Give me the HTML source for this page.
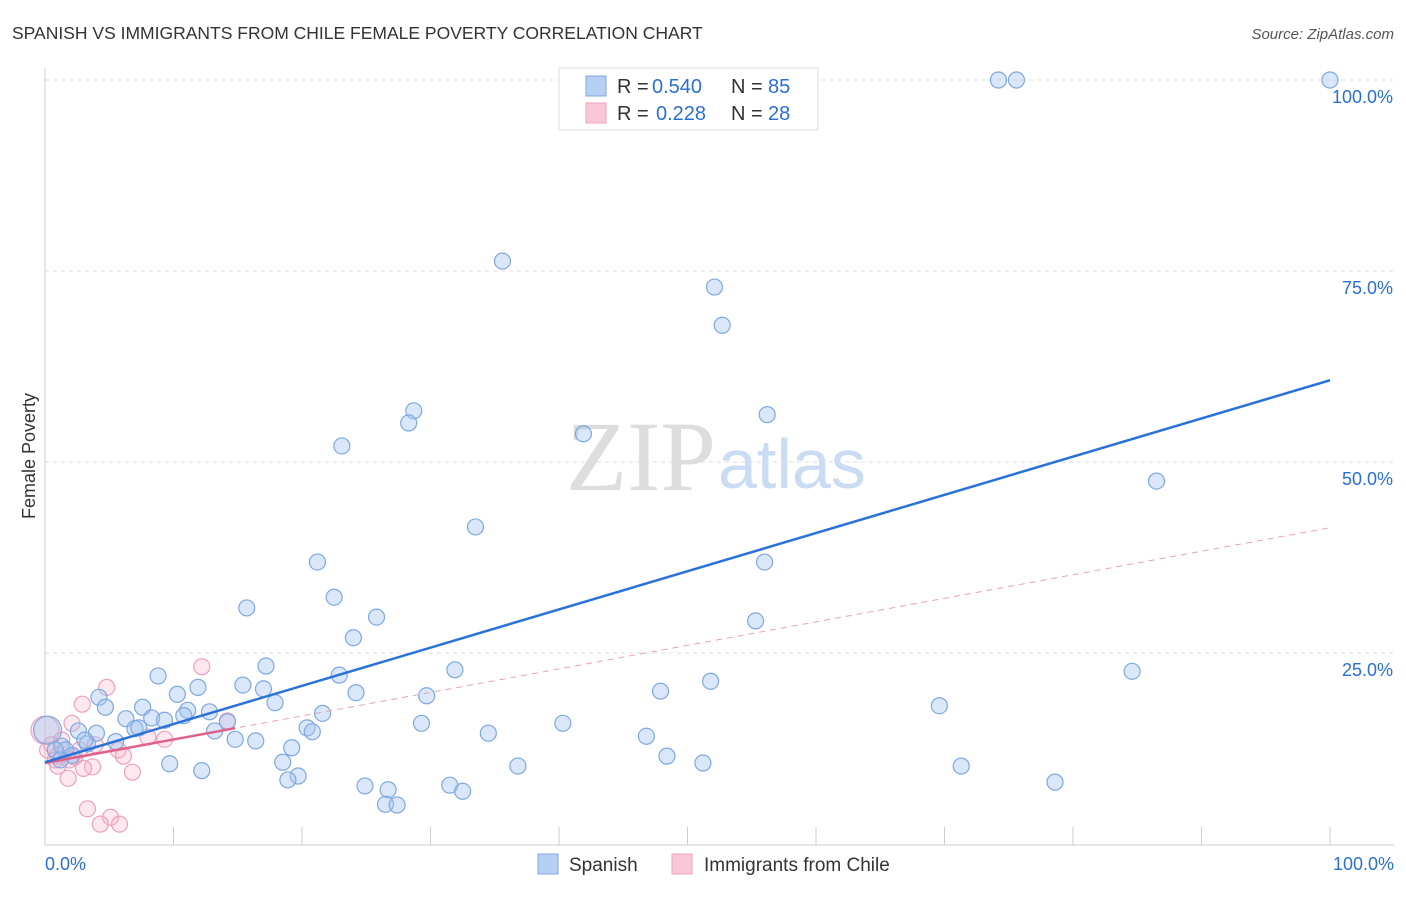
<!DOCTYPE html>
<html><head><meta charset="utf-8"><style>
body{margin:0;background:#fff;font-family:"Liberation Sans",sans-serif}
</style></head><body>
<svg id="c" width="1406" height="892" font-family="Liberation Sans, sans-serif">
<text x="12" y="39" font-size="17.5" fill="#333">SPANISH VS IMMIGRANTS FROM CHILE FEMALE POVERTY CORRELATION CHART</text>
<text x="1394" y="39" font-size="15" fill="#555" font-style="italic" text-anchor="end">Source: ZipAtlas.com</text>
<text x="35" y="456" font-size="18" fill="#333" text-anchor="middle" transform="rotate(-90 35 456)">Female Poverty</text>
<text x="716" y="490" font-size="100" fill="#ddd" text-anchor="end" style="font-family:'Liberation Serif',serif">ZIP</text>
<text x="718" y="488" font-size="70" fill="#c9dcf3">atlas</text>
<g id="grid"></g><g id="marks"></g>
<g>
<rect x="559" y="68" width="259" height="62" fill="#fff" stroke="#ddd"/>
<rect x="586" y="76" width="20" height="20" fill="#b5d0f3" stroke="#7fa8e0"/>
<rect x="586" y="103" width="20" height="20" fill="#f8c8d8" stroke="#f0a0bc"/>
<text x="617" y="93" font-size="20" fill="#333">R =</text>
<text x="652" y="93" font-size="20" fill="#2a6fd6">0.540</text>
<text x="731" y="93" font-size="20" fill="#333">N =</text>
<text x="768" y="93" font-size="20" fill="#2a6fd6">85</text>
<text x="617" y="120" font-size="20" fill="#333">R =</text>
<text x="656" y="120" font-size="20" fill="#2a6fd6">0.228</text>
<text x="731" y="120" font-size="20" fill="#333">N =</text>
<text x="768" y="120" font-size="20" fill="#2a6fd6">28</text>
</g>
<g>
<rect x="538" y="854" width="20" height="20" fill="#b5d0f3" stroke="#7fa8e0"/>
<text x="569" y="871" font-size="19" fill="#333">Spanish</text>
<rect x="672" y="854" width="20" height="20" fill="#f8c8d8" stroke="#f0a0bc"/>
<text x="704" y="871" font-size="19" fill="#333">Immigrants from Chile</text>
</g>
</svg>
<script>
const blueX=[74.2,75.6,100,35.6,52.1,52.7,28.7,28.3,56.2,23.1,41.9,86.5,33.5,21.2,56.0,22.5,15.7,25.8,55.3,24.0,17.2,31.9,84.6,8.8,22.9,51.8,15.4,17.0,47.9,11.9,10.3,24.2,4.2,29.7,7.6,4.7,11.1,17.9,69.6,12.8,21.6,8.3,6.3,9.3,14.2,29.3,40.3,10.8,7.0,13.2,7.3,20.4,20.8,4.0,2.6,34.5,14.8,46.8,5.5,16.4,3.3,1.3,19.2,1.6,48.4,9.7,18.5,36.8,51.2,71.3,12.2,19.7,18.9,24.9,31.5,78.6,26.7,32.5,26.5,27.4,0.2,0.8,2.1,1.2,3.1];
const blueY=[100,100,100,76.3,72.9,67.9,56.7,55.1,56.2,52.1,53.7,47.5,41.5,36.9,36.9,32.3,30.9,29.7,29.2,27.0,23.3,22.8,22.6,22.0,22.1,21.3,20.8,20.3,20.0,20.5,19.6,19.8,19.2,19.4,17.9,17.9,17.5,18.5,18.1,17.3,17.1,16.5,16.4,16.2,16.0,15.8,15.8,16.8,15.1,14.8,15.2,15.2,14.7,14.5,14.8,14.5,13.7,14.1,13.4,13.5,13.1,12.8,12.6,12.3,11.5,10.5,10.7,10.2,10.6,10.2,9.6,8.9,8.4,7.6,7.7,8.1,7.1,6.9,5.2,5.1,14.9,12.3,11.6,11.0,13.6];
const pinkX=[0,0.5,0.2,1.0,2.1,2.9,4.8,12.2,14.2,9.3,8.0,5.7,6.1,2.3,3.7,3.0,1.0,1.8,6.8,3.3,5.1,4.3,5.8,1.3,1.9,0.8,2.7,3.9];
const pinkY=[14.9,13.0,12.3,11.6,15.8,18.3,20.5,23.2,16.1,13.7,14.0,12.3,11.5,11.4,10.1,9.9,10.2,8.6,9.4,4.6,3.5,2.6,2.6,13.6,11.0,11.0,12.3,13.0];
const blueTrend=[10.7,60.7];
const pinkTrend=[10.6,41.4];
const pinkSolidEnd=14.8;
const yTicks=[25,50,75,100];
const xTicks=[0,10,20,30,40,50,60,70,80,90,100];
const X=v=>45+v*12.85, Y=v=>844-v*7.64;
const NS='http://www.w3.org/2000/svg';
const grid=document.getElementById('grid'), marks=document.getElementById('marks');
function mk(tag,attrs,parent){const e=document.createElementNS(NS,tag);for(const k in attrs)e.setAttribute(k,attrs[k]);parent.appendChild(e);return e;}
yTicks.forEach(t=>{
 const l=mk('line',{x1:45,x2:1394,y1:Y(t),y2:Y(t),stroke:'#ddd','stroke-dasharray':'4,4'},grid);
 
 
 const tx=mk('text',{x:1393,y:Y(t)+23,'font-size':18,fill:'#2a6fd6','text-anchor':'end'},grid);
 tx.textContent=t.toFixed(1)+'%';
 
 
});
const ax=mk('line',{x1:45,x2:45,y1:68,y2:845,stroke:'#ccc'},grid);


const bx=mk('line',{x1:45,x2:1394,y1:845,y2:845,stroke:'#ccc'},grid);


xTicks.forEach(t=>{
 const l=mk('line',{x1:X(t),x2:X(t),y1:827,y2:845,stroke:'#ccc'},grid);
 
 
});
[[0,'0.0%','start',45],[100,'100.0%','end',1394]].forEach(a=>{
 const tx=mk('text',{x:a[3],y:870,'font-size':18,fill:'#2a6fd6','text-anchor':a[2]},grid);
 tx.textContent=a[1];
 
 
});
pinkX.forEach((x,i)=>{
 const c=mk('circle',{cx:X(x),cy:Y(pinkY[i]),r:i==0?14:8,fill:'rgba(245,180,200,0.3)',stroke:'#f0a0bc','stroke-width':1.2},marks);
 
 
});
blueX.forEach((x,i)=>{
 const c=mk('circle',{cx:X(x),cy:Y(blueY[i]),r:i==80?14:8,fill:'rgba(160,196,240,0.4)',stroke:'#7fa8e0','stroke-width':1.2},marks);
 
 
});
const pd=mk('line',{x1:X(0),y1:Y(pinkTrend[0]),x2:X(100),y2:Y(pinkTrend[1]),stroke:'#e8a0b8','stroke-width':1,'stroke-dasharray':'6,5'},marks);


const ps=mk('line',{x1:X(0),y1:Y(pinkTrend[0]),x2:X(pinkSolidEnd),y2:Y(pinkTrend[0]+(pinkTrend[1]-pinkTrend[0])*pinkSolidEnd/100),stroke:'#e0608a','stroke-width':2.5},marks);


const bl=mk('line',{x1:X(0),y1:Y(blueTrend[0]),x2:X(100),y2:Y(blueTrend[1]),stroke:'#2a72d8','stroke-width':2.5},marks);


</script>
</body></html>
